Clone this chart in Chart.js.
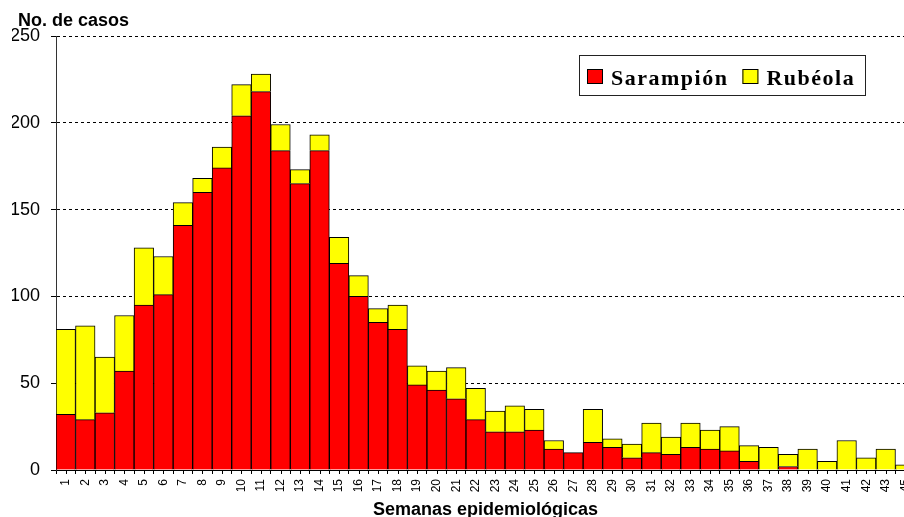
<!DOCTYPE html>
<html>
<head>
<meta charset="utf-8">
<script src="https://cdn.jsdelivr.net/npm/chart.js@4"></script>
<style>
html,body{margin:0;padding:0;overflow:hidden;background:#fff;}
canvas{display:block;}
</style>
</head>
<body>
<canvas id="c" width="930" height="517"></canvas>
<script>
const weeks = ['1','2','3','4','5','6','7','8','9','10','11','12','13','14','15','16','17','18','19','20','21','22','23','24','25','26','27','28','29','30','31','32','33','34','35','36','37','38','39','40','41','42','43','45'];
const sarampion = [32,29,33,57,95,101,141,160,174,204,218,184,165,184,119,100,85,81,49,46,41,29,22,22,23,12,10,16,13,7,10,9,13,12,11,5,0,2,0,0,0,0,0,0];
const rubeola = [49,54,32,32,33,22,13,8,12,18,10,15,8,9,15,12,8,14,11,11,18,18,12,15,12,5,0,19,5,8,17,10,14,11,14,9,13,7,12,5,17,7,12,3];
const yTicks = [0,50,100,150,200,250];
const seriesNames = ['Sarampión','Rubéola'];
const yTitle = 'No. de casos';
const xTitle = 'Semanas epidemiológicas';

const SANS = '"Liberation Sans", Arial, sans-serif';
const SERIF = '"Liberation Serif", "Times New Roman", serif';

const halfTicks = {
  id: 'halfTicks',
  afterDraw(chart) {
    const x = chart.scales.x, ctx = chart.ctx;
    ctx.save();
    ctx.strokeStyle = '#000';
    ctx.lineWidth = 1;
    ctx.beginPath();
    for (let i = 0; i < weeks.length; i++) {
      const px = Math.round(x.getPixelForValue(i)) + 0.5;
      ctx.moveTo(px, x.top);
      ctx.lineTo(px, x.top + 4);
    }
    ctx.stroke();
    ctx.restore();
  }
};

const yTitlePlugin = {
  id: 'yTitlePlugin',
  afterDraw(chart) {
    const ctx = chart.ctx, a = chart.chartArea;
    ctx.save();
    ctx.font = 'bold 18px ' + SANS;
    ctx.fillStyle = '#000';
    ctx.textBaseline = 'alphabetic';
    ctx.textAlign = 'left';
    ctx.fillText(yTitle, a.left - 38, a.top - 10);
    ctx.restore();
  }
};

const boxLegend = {
  id: 'boxLegend',
  afterDraw(chart) {
    const ctx = chart.ctx, a = chart.chartArea;
    const bx = Math.round(a.left + 523), by = Math.round(a.top + 19), bw = 286, bh = 40;
    ctx.save();
    ctx.fillStyle = '#fff';
    ctx.fillRect(bx, by, bw, bh);
    ctx.strokeStyle = '#222';
    ctx.lineWidth = 1;
    ctx.strokeRect(bx + 0.5, by + 0.5, bw, bh);
    ctx.font = 'bold 22px ' + SERIF;
    ctx.letterSpacing = '1.5px';
    ctx.textBaseline = 'alphabetic';
    ctx.textAlign = 'left';
    let x = bx + 8;
    chart.data.datasets.forEach(ds => {
      ctx.fillStyle = ds.backgroundColor;
      ctx.fillRect(x, by + 14, 16, 15);
      ctx.strokeStyle = '#000';
      ctx.strokeRect(x + 0.5, by + 14.5, 15, 14);
      ctx.fillStyle = '#000';
      ctx.fillText(ds.label, x + 24, by + 30);
      x += 24 + ctx.measureText(ds.label).width + 14;
    });
    ctx.restore();
  }
};

new Chart(document.getElementById('c'), {
  type: 'bar',
  data: {
    labels: weeks,
    datasets: [
      { label: seriesNames[0], data: sarampion, backgroundColor: '#FF0000', borderColor: '#000', borderWidth: 1, categoryPercentage: 1, barPercentage: 1 },
      { label: seriesNames[1], data: rubeola, backgroundColor: '#FFFF00', borderColor: '#000', borderWidth: 1, categoryPercentage: 1, barPercentage: 1 }
    ]
  },
  options: {
    responsive: false,
    animation: false,
    devicePixelRatio: 1,
    layout: { padding: { left: 12, top: 36, right: 15, bottom: 0 } },
    plugins: { legend: { display: false }, tooltip: { enabled: false }, title: { display: false } },
    scales: {
      x: {
        stacked: true,
        offset: true,
        ticks: { autoSkip: false, minRotation: 90, maxRotation: 90, font: { family: SANS, size: 12 }, color: '#000', padding: 5 },
        grid: { drawOnChartArea: false, offset: true, tickLength: 4, tickColor: '#000', color: '#000' },
        border: { color: '#000', width: 1 },
        title: { display: true, text: xTitle, font: { family: SANS, size: 18, weight: 'bold' }, color: '#000', padding: { top: 0, bottom: -4 } },
        afterFit: s => { s.height = 47; }
      },
      y: {
        stacked: true,
        min: 0,
        max: 250,
        afterBuildTicks: s => { s.ticks = yTicks.map(v => ({ value: v })); },
        ticks: { font: { family: SANS, size: 18 }, color: '#000', padding: 11 },
        grid: { color: c => (c.tick && c.tick.value === 0) ? 'rgba(0,0,0,0)' : '#000', lineWidth: 1, tickLength: 5, tickColor: '#000' },
        border: { display: true, color: '#333', width: 1, dash: [3, 3] },
        afterFit: s => { s.width = 44; }
      }
    }
  },
  plugins: [halfTicks, yTitlePlugin, boxLegend]
});
</script>
</body>
</html>
